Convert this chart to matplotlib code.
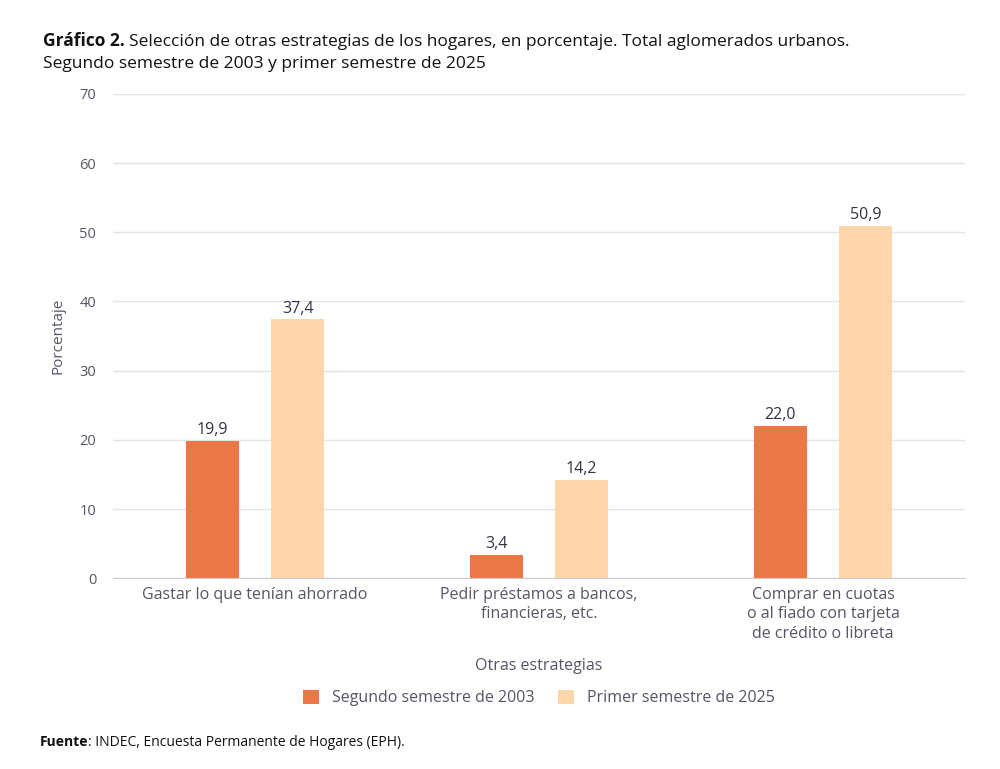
import matplotlib.pyplot as plt
import numpy as np

plt.rcParams['font.family'] = ['Open Sans', 'DejaVu Sans']

categories = ["Gastar lo que tenían ahorrado",
              "Pedir préstamos a bancos,\nfinancieras, etc.",
              "Comprar en cuotas\no al fiado con tarjeta\nde crédito o libreta"]
serie_2003 = [19.9, 3.4, 22.0]
serie_2025 = [37.4, 14.2, 50.9]
labels = ["Segundo semestre de 2003", "Primer semestre de 2025"]
colors = ["#ec7746", "#fdd6ab"]
text_col = "#555566"

fig = plt.figure(figsize=(10, 7.69), dpi=100)
ax = fig.add_axes([0.113, 0.248, 0.852, 0.63])

x = np.arange(len(categories))
w = 0.185
off = 0.15
b1 = ax.bar(x - off, serie_2003, w, color=colors[0], label=labels[0], zorder=2)
b2 = ax.bar(x + off, serie_2025, w, color=colors[1], label=labels[1], zorder=2)
for bars in (b1, b2):
    for r in bars:
        ax.text(r.get_x() + r.get_width() / 2, r.get_height() + 0.4,
                f"{r.get_height():.1f}".replace(".", ","),
                ha="center", va="bottom", fontsize=11.5, color="#333344")

ax.set_xlim(-0.5, 2.5)
ax.set_ylim(0, 70)
ax.set_yticks(range(0, 71, 10))
ax.grid(axis="y", color="#e4e4e4", linewidth=1, zorder=0)
for s in ("top", "right", "left"):
    ax.spines[s].set_visible(False)
ax.spines["bottom"].set_color("#cccccc")
ax.tick_params(axis="y", length=0, labelsize=10.5, labelcolor=text_col, pad=12)
ax.tick_params(axis="x", length=0, labelsize=11.5, labelcolor=text_col, pad=6)
ax.set_xticks(x)
ax.set_xticklabels(categories, linespacing=1.3)
ax.set_ylabel("Porcentaje", fontsize=11, color=text_col, labelpad=10)
ax.set_xlabel("Otras estrategias", fontsize=11.5, color=text_col, labelpad=12)

ax.legend(loc="upper center", bbox_to_anchor=(0.5, -0.2), ncol=2, frameon=False,
          fontsize=11.5, labelcolor=text_col, handlelength=1, handleheight=1,
          columnspacing=1.5)

t = fig.text(0.043, 0.94, "Gráfico 2.", fontsize=12.5, color="#111111", fontweight="bold")
fig.canvas.draw()
bb = t.get_window_extent()
fig.text(bb.x1 / fig.bbox.width + 0.004, 0.94,
         "Selección de otras estrategias de los hogares, en porcentaje. Total aglomerados urbanos.",
         fontsize=12.5, color="#111111")
fig.text(0.043, 0.912, "Segundo semestre de 2003 y primer semestre de 2025", fontsize=12.5, color="#111111")
f = fig.text(0.04, 0.03, "Fuente", fontsize=10, color="#111111", fontweight="bold")
fig.canvas.draw()
bb = f.get_window_extent()
fig.text(bb.x1 / fig.bbox.width, 0.03, ": INDEC, Encuesta Permanente de Hogares (EPH).",
         fontsize=10, color="#111111")

fig.savefig("out.png")
